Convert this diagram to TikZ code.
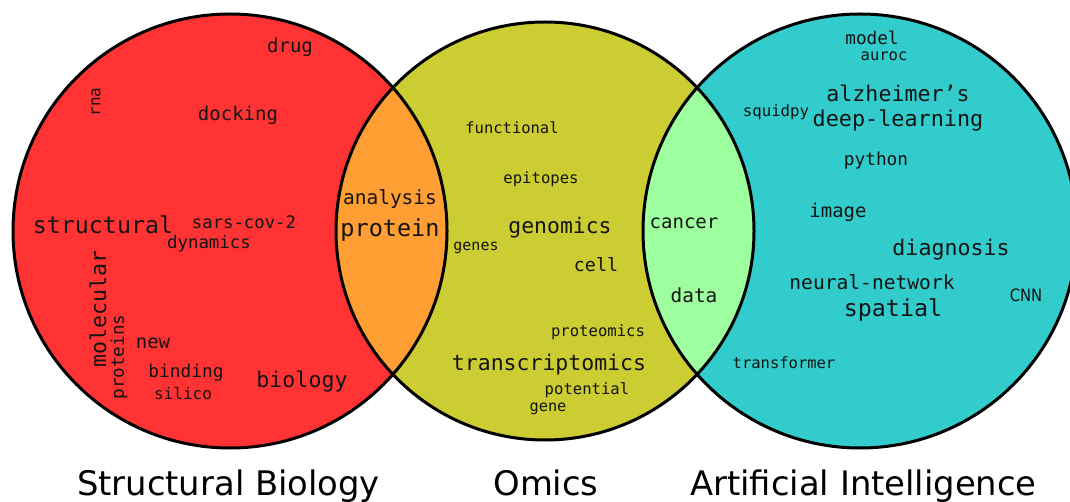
\documentclass[tikz,border=0pt]{standalone}
\usepackage{fontspec}
\setmainfont{DejaVu Sans}
\newfontfamily\monofam{DejaVu Sans Mono}
\newfontfamily\sansfam{DejaVu Sans}
\definecolor{cred}{RGB}{255,51,51}
\definecolor{corange}{RGB}{255,158,51}
\definecolor{cyellow}{RGB}{204,204,51}
\definecolor{cgreen}{RGB}{158,255,158}
\definecolor{ccyan}{RGB}{51,204,204}
\newcommand\wf[1]{\monofam\fontsize{#1}{#1}\selectfont}
\begin{document}
\begin{tikzpicture}[x=1pt,y=-1pt,
  word/.style={inner sep=0pt, text=black!92},
  setlabel/.style={inner sep=0pt, anchor=base, font=\fontsize{33.8}{34}\selectfont},
  outline/.style={draw=black, line width=3pt}]
\useasboundingbox (0,0) rectangle (1070,502);
% circles
\fill[cred] (230,231) circle[radius=217pt];
\fill[cyellow] (545,231) circle[radius=209pt];
\fill[ccyan] (860,231) circle[radius=217pt];
\begin{scope}
  \clip (230,231) circle[radius=217pt];
  \fill[corange] (545,231) circle[radius=209pt];
\end{scope}
\begin{scope}
  \clip (860,231) circle[radius=217pt];
  \fill[cgreen] (545,231) circle[radius=209pt];
\end{scope}
\draw[outline] (230,231) circle[radius=217pt];
\draw[outline] (545,231) circle[radius=209pt];
\draw[outline] (860,231) circle[radius=217pt];
% Structural Biology words
\node[word, font=\wf{19}] (drug) at (290,47) {drug};
\node[word, font=\wf{16}, rotate=90] (rna) at (96,102) {rna};
\node[word, font=\wf{19}] (docking) at (238,115) {docking};
\node[word, font=\wf{23.3}] (structural) at (103,225) {structural};
\node[word, font=\wf{17.3}] (sars) at (244,222) {sars-cov-2};
\node[word, font=\wf{17.4}] (dynamics) at (209,244) {dynamics};
\node[word, font=\wf{21.6}, rotate=90] (molecular) at (98,309) {molecular};
\node[word, font=\wf{17.6}, rotate=90] (proteins) at (119,357) {proteins};
\node[word, font=\wf{19}] (new) at (153,343) {new};
\node[word, font=\wf{17.8}] (binding) at (186,373) {binding};
\node[word, font=\wf{16}] (silico) at (183,393) {silico};
\node[word, font=\wf{21.6}] (biology) at (302,382) {biology};
% overlap SB/Omics
\node[word, font=\wf{19.5}] (analysis) at (390,199) {analysis};
\node[word, font=\wf{23.5}] (protein) at (390,230) {protein};
% Omics words
\node[word, font=\wf{15.5}] (functional) at (512,128) {functional};
\node[word, font=\wf{15.6}] (epitopes) at (541,179) {epitopes};
\node[word, font=\wf{21.4}] (genomics) at (560,228) {genomics};
\node[word, font=\wf{15}] (genes) at (476,248) {genes};
\node[word, font=\wf{18.3}] (cell) at (596,265) {cell};
\node[word, font=\wf{15.6}] (proteomics) at (598,332) {proteomics};
\node[word, font=\wf{21.5}] (transcriptomics) at (549,365) {transcriptomics};
\node[word, font=\wf{15.6}] (potential) at (587,390) {potential};
\node[word, font=\wf{15.3}] (gene) at (548,409) {gene};
% overlap Omics/AI
\node[word, font=\wf{19}] (cancer) at (684,223) {cancer};
\node[word, font=\wf{19.4}] (data) at (694,295) {data};
% AI words
\node[word, font=\wf{17.7}] (model) at (872,38) {model};
\node[word, font=\wf{15.5}] (auroc) at (884,56) {auroc};
\node[word, font=\wf{21.6}] (alzheimers) at (898,93) {alzheimer’s};
\node[word, font=\wf{15.7}] (squidpy) at (776,112) {squidpy};
\node[word, font=\wf{21.8}] (deeplearning) at (898,121) {deep-learning};
\node[word, font=\wf{17.8}] (python) at (876,161) {python};
\node[word, font=\wf{19}] (image) at (838,212) {image};
\node[word, font=\wf{21.6}] (diagnosis) at (951,250) {diagnosis};
\node[word, font=\wf{19.6}] (neural) at (872,282) {neural-network};
\node[word, font=\sansfam\fontsize{17}{17}\selectfont, xscale=0.87] (cnn) at (1026,295) {CNN};
\node[word, font=\wf{23.3}] (spatial) at (893,310) {spatial};
\node[word, font=\wf{15.5}] (transformer) at (784,363) {transformer};
% set labels
\node[setlabel] (sb) at (228.5,495) {Structural Biology};
\node[setlabel] (omics) at (546,495) {Omics};
\node[setlabel] (ai) at (863.5,495) {Artificial Intelligence};
\end{tikzpicture}
\end{document}
